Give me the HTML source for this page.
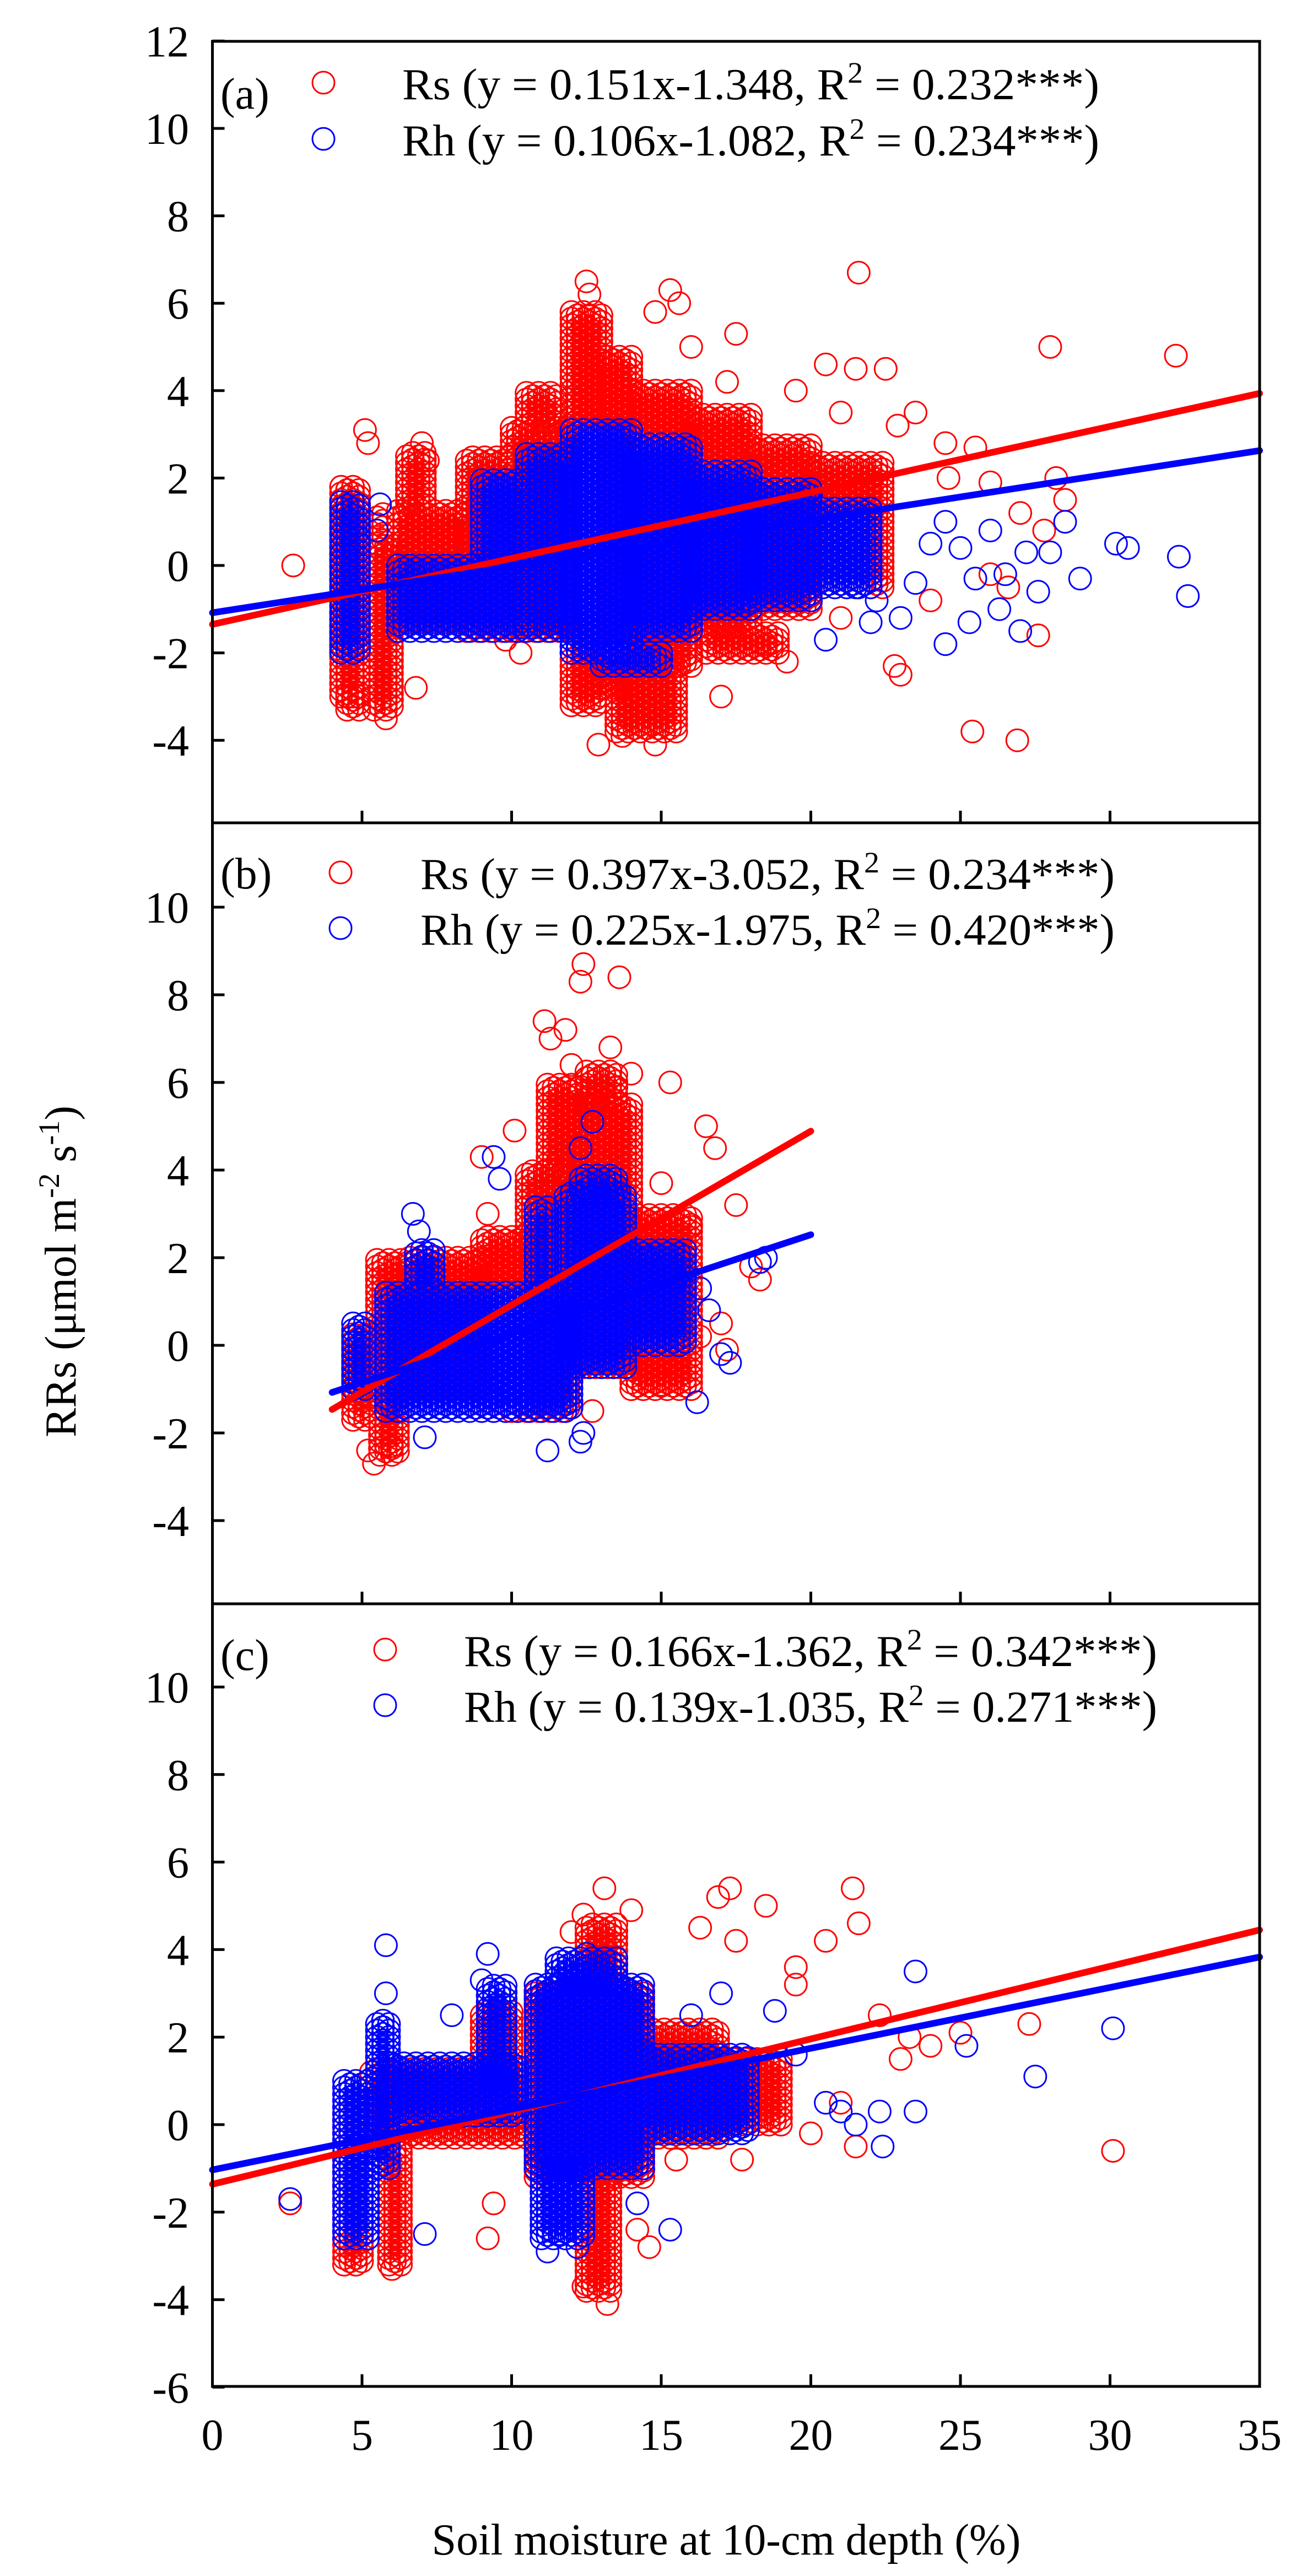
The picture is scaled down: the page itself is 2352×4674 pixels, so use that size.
<!DOCTYPE html>
<html><head><meta charset="utf-8"><style>
html,body{margin:0;padding:0;background:#fff;}
svg{display:block;font-family:"Liberation Serif","Times New Roman",serif;}
svg text{font-family:"Liberation Serif","Times New Roman",serif;}
</style></head><body>
<svg id="chart" width="2352" height="4674" viewBox="0 0 2352 4674" xmlns="http://www.w3.org/2000/svg">
<rect width="2352" height="4674" fill="#fff"/>
<g id="pts"></g>
<g id="lines"></g>
<g id="axes"></g>
<text transform="translate(137,2307) rotate(-90)" text-anchor="middle" font-size="80">RRs (μmol m<tspan baseline-shift="super" font-size="54">-2</tspan> s<tspan baseline-shift="super" font-size="54">-1</tspan>)</text>
<text x="1318" y="4635" text-anchor="middle" font-size="80">Soil moisture at 10-cm depth (%)</text>
</svg>
<script>
// ---------- data ----------
const xTicks = [0,5,10,15,20,25,30,35];
const yTicksA = [12,10,8,6,4,2,0,-2,-4];
const yTicksB = [10,8,6,4,2,0,-2,-4];
const yTicksC = [10,8,6,4,2,0,-2,-4,-6];
const panelLabels = ['(a)','(b)','(c)'];
const slopes = {a:[0.151,0.106], b:[0.397,0.225], c:[0.166,0.139]};
const intercepts = {a:[-1.348,-1.082], b:[-3.052,-1.975], c:[-1.362,-1.035]};
const r2 = {a:['0.232','0.234'], b:['0.234','0.420'], c:['0.342','0.271']};
const lineRange = {a:[0,35], b:[4,20], c:[0,35]};
// dense bands [xStart, xEnd, yLow, yHigh]
const bandsRsA = [[4.3,5.0,-3.0,1.8],[4.5,4.9,-3.3,-3.0],[5.4,6.0,-3.3,0.5],[5.5,5.8,0.5,1.2],[6.2,8.5,-1.3,1.3],[6.5,7.2,1.3,2.6],[8.5,10,-1.5,2.5],[10,12,-1.5,3.2],[10.5,11.5,3.2,4.0],[12,13,-3.2,5.8],[13,14,-2.8,4.8],[14,16,-2.3,4.0],[13.5,15.5,-3.8,-2.3],[16,18,-1.5,3.5],[18,20,-1.0,2.8],[20,22.5,-0.5,2.4],[16.5,19,-2.0,-1.5]];
const bandsRhA = [[4.3,5.0,-2.0,1.5],[6.2,9,-1.5,0.0],[9,10.5,-1.5,2.0],[10.5,12,-1.5,2.6],[12,14,-2.0,3.1],[14,16,-1.5,2.8],[16,18,-1.0,2.2],[18,20,-0.8,1.8],[20,22,-0.5,1.3],[13,15,-2.3,-2.0]];
const bandsRsB = [[4.7,5.3,-1.7,0.3],[5.5,6.6,-1.2,2.0],[5.6,6.2,-2.5,-1.2],[6.6,9,-1.0,2.0],[9,11,-1.5,2.5],[10.5,12,-1.5,4.0],[11.2,12.3,4.0,6.0],[12,14,-0.5,5.5],[14,16,-1.0,3.0],[12.5,13.5,5.5,6.3]];
const bandsRhB = [[4.7,5.2,-1.0,0.5],[5.8,12,-1.5,1.2],[6.8,7.5,1.2,2.2],[10.8,11.3,1.2,3.2],[11.8,13.8,-0.5,3.5],[12.3,13.5,3.5,3.9],[14,15.8,0.0,2.2]];
const bandsRsC = [[4.4,5.1,-3.2,0.3],[5.9,6.3,-3.2,-0.5],[5.3,10.5,-0.3,1.3],[9,10,1.3,2.6],[10.8,14.5,-1.2,3.0],[12.5,13.3,-3.8,-1.2],[12.5,13.5,3.0,4.6],[14.5,17,-0.3,2.2],[17,19,0.0,1.5]];
const bandsRhC = [[4.4,5.2,-2.6,1.0],[5.5,6.0,-1.0,2.4],[6.0,10.3,0.2,1.4],[9.2,9.8,1.0,3.2],[10.8,14.5,-1.0,3.2],[11,12.5,-2.6,-1.0],[11.5,13.5,3.2,3.8],[14.5,18,-0.2,1.6]];
// sparse points [x, y]
const sparseRsA = [[2.7,0.0],[5.1,3.1],[5.2,2.8],[7.0,2.8],[7.2,2.4],[6.8,-2.8],[5.8,-3.5],[10.3,-2.0],[9.8,-1.7],[12.5,6.5],[12.6,6.2],[15.3,6.3],[15.6,6.0],[14.8,5.8],[17.5,5.3],[16,5.0],[17.2,4.2],[18,3.0],[19.5,4.0],[21.5,4.5],[20.5,4.6],[21.6,6.7],[22.5,4.5],[22.9,3.2],[21,3.5],[23.5,3.5],[24.5,2.8],[25.5,2.7],[24.6,2.0],[26,1.9],[27,1.2],[27.8,0.8],[28.2,2.0],[28.5,1.5],[32.2,4.8],[28,5.0],[23,-2.5],[22.8,-2.3],[25.4,-3.8],[26.9,-4.0],[19.2,-2.2],[18.5,-1.8],[14.8,-4.1],[12.9,-4.1],[13.7,-3.9],[17,-3.0],[21,-1.2],[24,-0.8],[26,-0.2],[27.6,-1.6],[26.6,-0.5]];
const sparseRhA = [[5.6,1.4],[5.5,0.8],[21.5,-0.5],[22,-1.3],[23,-1.2],[23.5,-0.4],[24,0.5],[24.5,1.0],[25,0.4],[25.5,-0.3],[26,0.8],[26.5,-0.2],[27.2,0.3],[27.6,-0.6],[28,0.3],[28.5,1.0],[29,-0.3],[30.2,0.5],[30.6,0.4],[32.3,0.2],[32.6,-0.7],[25.3,-1.3],[26.3,-1.0],[27,-1.5],[24.5,-1.8],[20.5,-1.7],[22.2,-0.8]];
const sparseRsB = [[5.2,-2.4],[5.4,-2.7],[6,-2.3],[9.2,3.0],[9.0,4.3],[10.1,4.9],[11.1,7.4],[11.3,7.0],[12.3,8.3],[12.4,8.7],[13.6,8.4],[11.8,7.2],[12.0,6.4],[12.3,5.9],[13.3,6.8],[13.5,5.9],[14.0,6.2],[15.3,6.0],[16.5,5.0],[16.8,4.5],[15,3.7],[15.6,2.9],[16,2.7],[17.5,3.2],[18,1.8],[18.3,1.5],[17,0.5],[17.2,-0.1],[16.3,0.2],[15.5,-0.5],[15,-0.9],[12.7,-1.5],[10,-1.5],[9.3,-1.2]];
const sparseRhB = [[6.7,3.0],[6.9,2.6],[9.4,4.3],[9.6,3.8],[12.7,5.1],[12.3,4.5],[13,1.8],[14.5,2.0],[15,1.7],[15.5,1.5],[16.3,1.3],[17,-0.2],[17.3,-0.4],[18.3,1.9],[18.5,2.0],[16.2,-1.3],[7.1,-2.1],[11.2,-2.4],[12.3,-2.2],[12.4,-2.0],[13.2,0.6],[16.6,0.8]];
const sparseRsC = [[2.6,-1.8],[6,-3.3],[9.2,-2.6],[9.4,-1.8],[12,4.4],[12.4,4.8],[13.1,5.4],[14.0,4.9],[16.9,5.2],[17.3,5.4],[16.3,4.5],[18.5,5.0],[17.5,4.2],[19.5,3.6],[21.4,5.4],[21.6,4.6],[20.5,4.2],[19.5,3.2],[22.3,2.5],[23.3,2.0],[23,1.5],[24,1.8],[21,0.5],[20,-0.2],[17.7,-0.8],[15.5,-0.8],[12.4,-3.7],[13.2,-4.1],[13.3,-3.2],[14.6,-2.8],[14.2,-2.4],[25,2.1],[27.3,2.3],[30.1,-0.6],[21.5,-0.5]];
const sparseRhC = [[2.6,-1.7],[5.8,4.1],[5.8,3.0],[9.2,3.9],[9.0,3.3],[8.0,2.5],[11.8,3.5],[12.5,3.9],[16,2.5],[17,3.0],[18.8,2.6],[19.5,1.6],[20.5,0.5],[21.5,0.0],[21,0.3],[22.3,0.3],[22.4,-0.5],[23.5,0.3],[23.5,3.5],[25.2,1.8],[27.5,1.1],[30.1,2.2],[15.3,-2.4],[14.2,-1.8],[11.2,-2.9],[12.2,-2.8],[11.6,-2.5],[7.1,-2.5]];

// ---------- scales ----------
const X0 = 385.5, XS = 54.3;
const panels = {
  a:{zero:1026, unit:79.3, top:75, bottom:1493, ticks:yTicksA, lab:panelLabels[0], labY:197, mk:587, tx:730, tx2:1995, base:[180,282],
     rs:bandsRsA, rh:bandsRhA, srs:sparseRsA, srh:sparseRhA},
  b:{zero:2441, unit:79.5, top:1493, bottom:2910, ticks:yTicksB, lab:panelLabels[1], labY:1612, mk:618, tx:763, tx2:2023, base:[1613,1714],
     rs:bandsRsB, rh:bandsRhB, srs:sparseRsB, srh:sparseRhB},
  c:{zero:3855, unit:79.4, top:2910, bottom:4330, ticks:yTicksC, lab:panelLabels[2], labY:3030, mk:699, tx:842, tx2:2100, base:[3023,3124],
     rs:bandsRsC, rh:bandsRhC, srs:sparseRsC, srh:sparseRhC}
};
const xScale = v => X0 + v*XS;
const yScale = (p,v) => p.zero - v*p.unit;
const NS = 'http://www.w3.org/2000/svg';
function mk(tag, attrs, parent){
  const e = document.createElementNS(NS, tag);
  for (const k in attrs) e.setAttribute(k, attrs[k]);
  parent.appendChild(e); return e;
}
const gPts = document.getElementById('pts');
const gLines = document.getElementById('lines');
const gAxes = document.getElementById('axes');
const RIGHT = xScale(35);

function drawSeries(p, key, bands, sparse, color, parent){
  const g = mk('g', {fill:'none', stroke:color, 'stroke-width':3}, parent);
  
  
  let d = '';
  const circ = (cx, cy) => { d += 'M'+(cx-20).toFixed(1)+' '+cy.toFixed(1)+'a20 20 0 1 0 40 0a20 20 0 1 0 -40 0'; };
  bands.forEach(b => {
    let col = 0;
    for (let x = b[0]; x <= b[1] + 1e-6; x += 0.2, col++) {
      const off = (col % 2) ? 0.075 : 0;
      for (let y = b[2] + off; y <= b[3] + 1e-6; y += 0.15)
        circ(xScale(x), yScale(p, y));
    }
  });
  sparse.forEach(s => circ(xScale(s[0]), yScale(p, s[1])));
  const path = mk('path', {d:d}, g);
  
  
}

function drawLine(p, pk, i, color){
  const r = lineRange[pk];
  const m = slopes[pk][i], c = intercepts[pk][i];
  const ln = mk('line', {x1:xScale(r[0]), y1:yScale(p, m*r[0]+c), x2:xScale(r[1]), y2:yScale(p, m*r[1]+c), stroke:color, 'stroke-width':12, 'stroke-linecap':'round'}, gLines);
  
  
}

Object.keys(panels).forEach(pk => {
  const p = panels[pk];
  const clipId = 'clip-' + pk;
  const cp = mk('clipPath', {id:clipId}, gPts);
  mk('rect', {x:X0, y:p.top, width:RIGHT-X0, height:p.bottom-p.top}, cp);
  const gp = mk('g', {'clip-path':'url(#'+clipId+')'}, gPts);
  
  
  drawSeries(p, pk + '-rs', p.rs, p.srs, '#ff0000', gp);
  drawSeries(p, pk + '-rh', p.rh, p.srh, '#0000ff', gp);
  drawLine(p, pk, 0, '#ff0000');
  drawLine(p, pk, 1, '#0000ff');

  const fr = mk('rect', {x:X0, y:p.top, width:RIGHT-X0, height:p.bottom-p.top, fill:'none', stroke:'#000', 'stroke-width':5}, gAxes);
  
  
  p.ticks.forEach(v => {
    const y = yScale(p, v);
    const t = mk('line', {x1:X0, x2:X0+22, y1:y, y2:y, stroke:'#000', 'stroke-width':5}, gAxes);
    
    
    const lb = mk('text', {x:343, y:y+28, 'text-anchor':'end', 'font-size':80}, gAxes);
    
    
    lb.textContent = String(v);
  });
  xTicks.forEach(v => {
    if (v === 0 || v === 35) return;
    const t = mk('line', {x1:xScale(v), x2:xScale(v), y1:p.bottom, y2:p.bottom-22, stroke:'#000', 'stroke-width':5}, gAxes);
    
    
  });
  const pl = mk('text', {x:400, y:p.labY, 'font-size':80}, gAxes);
  
  
  pl.textContent = p.lab;
  const names = ['Rs','Rh'], cols = ['#ff0000','#0000ff'];
  [0,1].forEach(i => {
    const m = mk('circle', {cx:p.mk, cy:p.base[i]-30, r:20, fill:'none', stroke:cols[i], 'stroke-width':3}, gAxes);
    
    
    const t = mk('text', {x:p.tx, y:p.base[i], 'font-size':80, textLength:p.tx2-p.tx, lengthAdjust:'spacingAndGlyphs'}, gAxes);
    
    
    const m1 = slopes[pk][i].toFixed(3), c1 = Math.abs(intercepts[pk][i]).toFixed(3);
    t.innerHTML = names[i] + ' (y = ' + m1 + 'x-' + c1 + ', R<tspan baseline-shift="super" font-size="54">2</tspan> = ' + r2[pk][i] + '***)';
  });
});
xTicks.forEach(v => {
  const lb = mk('text', {x:xScale(v), y:4445, 'text-anchor':'middle', 'font-size':80}, gAxes);
  
  
  lb.textContent = String(v);
});
</script>
</body></html>
